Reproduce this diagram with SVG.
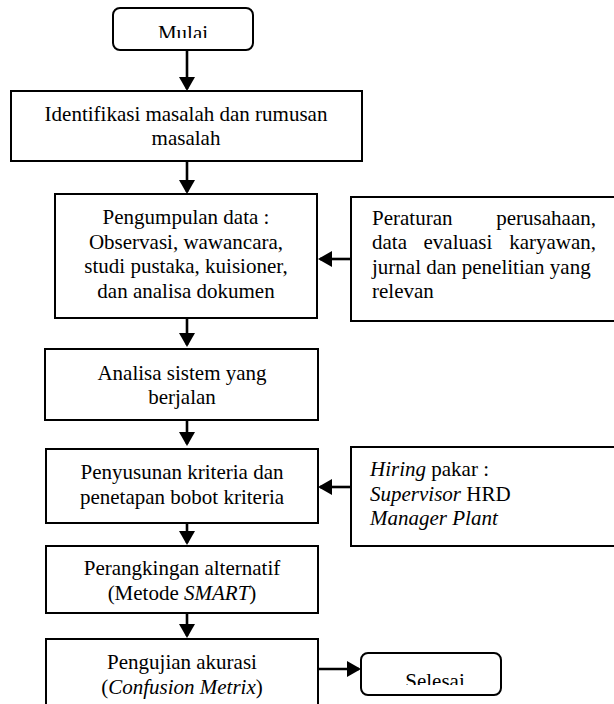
<svg xmlns="http://www.w3.org/2000/svg" width="614" height="704" viewBox="0 0 614 704">
<style>
.box{fill:#fff;stroke:#000;stroke-width:2}
.t{font-family:"Liberation Serif","Times New Roman",serif;font-size:21px;fill:#000}
.c{text-anchor:middle}
.e{text-anchor:end}
.i{font-style:italic}
.arr{fill:none;stroke:#000;stroke-width:2.6;marker-end:url(#ah)}
</style>
<defs>
<marker id="ah" markerUnits="userSpaceOnUse" markerWidth="16" markerHeight="16" refX="12" refY="8" orient="auto" viewBox="0 0 16 16">
<path d="M0,0 L14,8 L0,16 z" fill="#000"/>
</marker>
<clipPath id="clipMulai"><rect x="113" y="8" width="140" height="30"/></clipPath>
<clipPath id="clipSelesai"><rect x="361" y="653" width="140" height="32"/></clipPath>
</defs>
<g id="connectors">
<path class="arr" d="M187,50 V89"/>
<path class="arr" d="M187,161 V192"/>
<path class="arr" d="M187,318 V345"/>
<path class="arr" d="M187,420 V444"/>
<path class="arr" d="M187,523 V543"/>
<path class="arr" d="M187,613 V636"/>
<path class="arr" d="M351,259 H320"/>
<path class="arr" d="M351,487 H320"/>
<path class="arr" d="M318,669 H359"/>
</g>
<g id="mulai">
<rect class="box" x="113" y="8" width="140" height="42" rx="7"/>
<text class="t c" x="183" y="40" clip-path="url(#clipMulai)">Mulai</text>
</g>
<g id="identifikasi">
<rect class="box" x="11" y="91" width="351" height="70"/>
<text class="t c" x="186" y="120.5">Identifikasi masalah dan rumusan</text>
<text class="t c" x="186" y="145">masalah</text>
</g>
<g id="pengumpulan">
<rect class="box" x="55" y="194" width="262" height="124"/>
<text class="t c" x="186" y="224">Pengumpulan data :</text>
<text class="t c" x="186" y="249">Observasi, wawancara,</text>
<text class="t c" x="186" y="273">studi pustaka, kuisioner,</text>
<text class="t c" x="186" y="298">dan analisa dokumen</text>
</g>
<g id="sumber">
<rect class="box" x="351" y="197" width="272" height="124"/>
<text class="t" x="372" y="224.5">Peraturan</text>
<text class="t e" x="596" y="224.5">perusahaan,</text>
<text class="t" x="372" y="249">data</text>
<text class="t" x="423.5" y="249">evaluasi</text>
<text class="t e" x="596" y="249">karyawan,</text>
<text class="t" x="372" y="273.5">jurnal dan penelitian yang</text>
<text class="t" x="372" y="298">relevan</text>
</g>
<g id="analisa">
<rect class="box" x="45" y="349" width="273" height="71"/>
<text class="t c" x="182" y="379.5">Analisa sistem yang</text>
<text class="t c" x="182" y="404">berjalan</text>
</g>
<g id="penyusunan">
<rect class="box" x="46" y="449" width="272" height="74"/>
<text class="t c" x="182" y="479">Penyusunan kriteria dan</text>
<text class="t c" x="182" y="503.5">penetapan bobot kriteria</text>
</g>
<g id="hiring">
<rect class="box" x="351" y="447" width="272" height="99"/>
<text class="t" x="370" y="476"><tspan class="i">Hiring</tspan> pakar :</text>
<text class="t" x="370" y="500.5"><tspan class="i">Supervisor</tspan> HRD</text>
<text class="t i" x="370" y="525">Manager Plant</text>
</g>
<g id="perangkingan">
<rect class="box" x="46" y="546" width="272" height="67"/>
<text class="t c" x="182" y="575">Perangkingan alternatif</text>
<text class="t c" x="182" y="600">(Metode <tspan class="i">SMART</tspan>)</text>
</g>
<g id="pengujian">
<rect class="box" x="46" y="639" width="272" height="80"/>
<text class="t c" x="182" y="669">Pengujian akurasi</text>
<text class="t c" x="182" y="693.5">(<tspan class="i">Confusion Metrix</tspan>)</text>
</g>
<g id="selesai">
<rect class="box" x="361" y="653" width="140" height="42" rx="7"/>
<text class="t c" x="435" y="688" clip-path="url(#clipSelesai)">Selesai</text>
</g>
</svg>
